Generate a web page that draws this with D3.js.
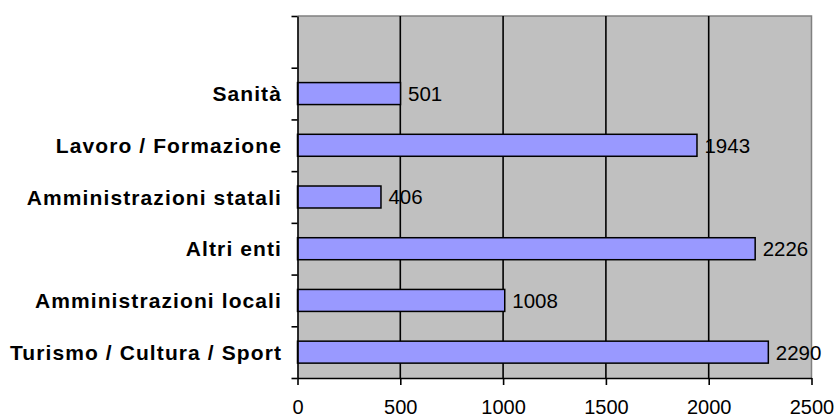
<!DOCTYPE html>
<html>
<head>
<meta charset="utf-8">
<script src="https://cdn.jsdelivr.net/npm/d3@7"></script>
<style>
  html, body { margin: 0; padding: 0; background: #fff; }
  svg { display: block; }
</style>
</head>
<body>
<svg id="chart" width="838" height="419"></svg>
<script>
// Categories top to bottom (first slot left empty)
const categories = ["", "Sanità", "Lavoro / Formazione", "Amministrazioni statali", "Altri enti", "Amministrazioni locali", "Turismo / Cultura / Sport"];
const values = [null, 501, 1943, 406, 2226, 1008, 2290];
const xTicks = [0, 500, 1000, 1500, 2000, 2500];

const svg = d3.select("#chart");
const plot = { left: 297.5, right: 811.5, top: 16, bottom: 378 };
const font = "Liberation Sans, Arial, sans-serif";

const x = d3.scaleLinear().domain([0, 2500]).range([plot.left, plot.right]);
const y = d3.scaleBand().domain(categories).range([plot.top, plot.bottom])
  .paddingInner(0.575).paddingOuter(0.2875);
const yIdx = d3.scaleLinear().domain([0, categories.length]).range([plot.top, plot.bottom]);

// plot background
svg.append("rect")
  .attr("x", plot.left).attr("y", plot.top)
  .attr("width", plot.right - plot.left).attr("height", plot.bottom - plot.top)
  .attr("fill", "#c0c0c0");

// gray frame on top and right
svg.append("path")
  .attr("d", `M${plot.left},${plot.top}H${plot.right}V${plot.bottom}`)
  .attr("fill", "none").attr("stroke", "#808080").attr("stroke-width", 1.5);

// vertical gridlines
svg.append("g").selectAll("line")
  .data(xTicks.filter(d => d > 0 && d < 2500))
  .join("line")
  .attr("x1", d => x(d)).attr("x2", d => x(d))
  .attr("y1", plot.top).attr("y2", plot.bottom)
  .attr("stroke", "#000").attr("stroke-width", 1.6);

const rows = categories.map((c, i) => ({ c, v: values[i] })).filter(d => d.v != null);

// bars
svg.append("g").selectAll("rect")
  .data(rows)
  .join("rect")
  .attr("x", x(0))
  .attr("y", d => y(d.c))
  .attr("width", d => x(d.v) - x(0))
  .attr("height", y.bandwidth())
  .attr("fill", "#9999ff")
  .attr("stroke", "#000").attr("stroke-width", 1.5);

// value labels
svg.append("g").selectAll("text")
  .data(rows)
  .join("text")
  .attr("x", d => x(d.v) + 7.5)
  .attr("y", d => y(d.c) + y.bandwidth() / 2)
  .attr("dy", "0.36em")
  .attr("font-family", font)
  .attr("font-size", 20.5)
  .attr("fill", "#000")
  .text(d => d.v);

// left axis with ticks at category boundaries
const yAxis = svg.append("g")
  .attr("transform", `translate(${plot.left},0)`)
  .call(d3.axisLeft(yIdx).tickValues(d3.range(0, categories.length + 1))
    .tickSize(6).tickSizeOuter(0).tickFormat(""));
yAxis.selectAll("path, line").attr("stroke", "#000").attr("stroke-width", 1.6);

// category labels
svg.append("g").selectAll("text")
  .data(categories.filter(c => c !== ""))
  .join("text")
  .attr("x", 282)
  .attr("y", d => y(d) + y.bandwidth() / 2)
  .attr("dy", "0.36em")
  .attr("text-anchor", "end")
  .attr("font-family", font)
  .attr("font-weight", "bold")
  .attr("font-size", 21)
  .attr("letter-spacing", 1.1)
  .attr("fill", "#000")
  .text(d => d);

// bottom axis
const xAxis = svg.append("g")
  .attr("transform", `translate(0,${plot.bottom})`)
  .call(d3.axisBottom(x).tickValues(xTicks).tickFormat(d3.format("d"))
    .tickSize(7).tickSizeOuter(0));
xAxis.selectAll("path, line").attr("stroke", "#000").attr("stroke-width", 1.6);
xAxis.selectAll("text")
  .attr("y", 36).attr("dy", null)
  .attr("font-family", font)
  .attr("font-size", 20)
  .attr("fill", "#000");
</script>
</body>
</html>
